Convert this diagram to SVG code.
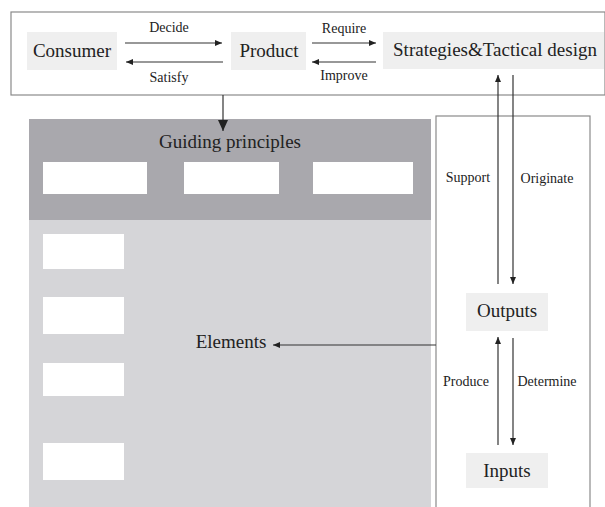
<svg xmlns="http://www.w3.org/2000/svg" width="605" height="507" viewBox="0 0 605 507">
<defs>
<style>
.frame{fill:none;stroke:#8a8a8a;stroke-width:1.2}
.node{fill:#efefef}
.white{fill:#ffffff}
.big{font-family:'Liberation Serif','Times New Roman','DejaVu Serif',serif;font-size:19px;fill:#222;text-anchor:middle}
.small{font-family:'Liberation Serif','Times New Roman','DejaVu Serif',serif;font-size:14px;fill:#222;text-anchor:middle}
.conn{stroke:#333;stroke-width:1.2;fill:none}
</style>
<marker id="ah" markerWidth="8" markerHeight="6" refX="7" refY="3" orient="auto" markerUnits="userSpaceOnUse">
<path d="M0,0 L7,3 L0,6 Z" fill="#222"/>
</marker>
<marker id="ahBig" markerWidth="12" markerHeight="10" refX="11" refY="5" orient="auto" markerUnits="userSpaceOnUse">
<path d="M0,0 L11,5 L0,10 Z" fill="#222"/>
</marker>
</defs>
<rect width="605" height="507" fill="#ffffff"/>

<g id="top-frame">
<rect class="frame" x="11" y="12" width="594" height="83"/>
</g>

<g id="guiding-principles">
<rect x="29" y="119" width="402" height="101" fill="#a9a8ad"/>
<text class="big" x="230" y="148" font-family="Liberation Serif, serif">Guiding principles</text>
<rect class="white" x="43" y="162" width="104" height="32"/>
<rect class="white" x="184" y="162" width="95" height="32"/>
<rect class="white" x="313" y="162" width="100" height="32"/>
</g>

<g id="elements">
<rect x="29" y="220" width="402" height="287" fill="#d5d5d8"/>
<rect class="white" x="43" y="234" width="81" height="35"/>
<rect class="white" x="43" y="297" width="81" height="37"/>
<rect class="white" x="43" y="363" width="81" height="33"/>
<rect class="white" x="43" y="443" width="81" height="37"/>
<text class="big" x="231" y="348">Elements</text>
</g>

<g id="right-frame">
<rect class="frame" x="436" y="116" width="154" height="395"/>
</g>

<g id="consumer">
<rect class="node" x="27" y="32" width="90" height="38"/>
<text class="big" x="72" y="57">Consumer</text>
</g>
<g id="product">
<rect class="node" x="231" y="32" width="75" height="38"/>
<text class="big" x="269" y="57">Product</text>
</g>
<g id="strategies">
<rect class="node" x="383" y="32" width="221" height="37"/>
<text class="big" x="495" y="56">Strategies&amp;Tactical design</text>
</g>
<g id="outputs">
<rect class="node" x="466" y="293" width="82" height="38"/>
<text class="big" x="507" y="317">Outputs</text>
</g>
<g id="inputs">
<rect class="node" x="466" y="453" width="82" height="35"/>
<text class="big" x="507" y="477">Inputs</text>
</g>

<g id="connectors">
<line class="conn" x1="125" y1="43" x2="222" y2="43" marker-end="url(#ah)"/>
<text class="small" x="169" y="32">Decide</text>
<line class="conn" x1="223" y1="62" x2="126" y2="62" marker-end="url(#ah)"/>
<text class="small" x="169" y="82">Satisfy</text>
<line class="conn" x1="312" y1="43" x2="376" y2="43" marker-end="url(#ah)"/>
<text class="small" x="344" y="33">Require</text>
<line class="conn" x1="376" y1="62" x2="312" y2="62" marker-end="url(#ah)"/>
<text class="small" x="344" y="80">Improve</text>
<line class="conn" x1="223" y1="95" x2="223" y2="131" marker-end="url(#ahBig)"/>
<line class="conn" x1="498" y1="284" x2="498" y2="75" marker-end="url(#ah)"/>
<text class="small" x="468" y="182">Support</text>
<line class="conn" x1="513" y1="75" x2="513" y2="284" marker-end="url(#ah)"/>
<text class="small" x="547" y="183">Originate</text>
<line class="conn" x1="498" y1="445" x2="498" y2="337" marker-end="url(#ah)"/>
<text class="small" x="466" y="386">Produce</text>
<line class="conn" x1="513" y1="338" x2="513" y2="445" marker-end="url(#ah)"/>
<text class="small" x="547" y="386">Determine</text>
<line class="conn" x1="436" y1="345" x2="273" y2="345" marker-end="url(#ah)"/>
</g>
</svg>
